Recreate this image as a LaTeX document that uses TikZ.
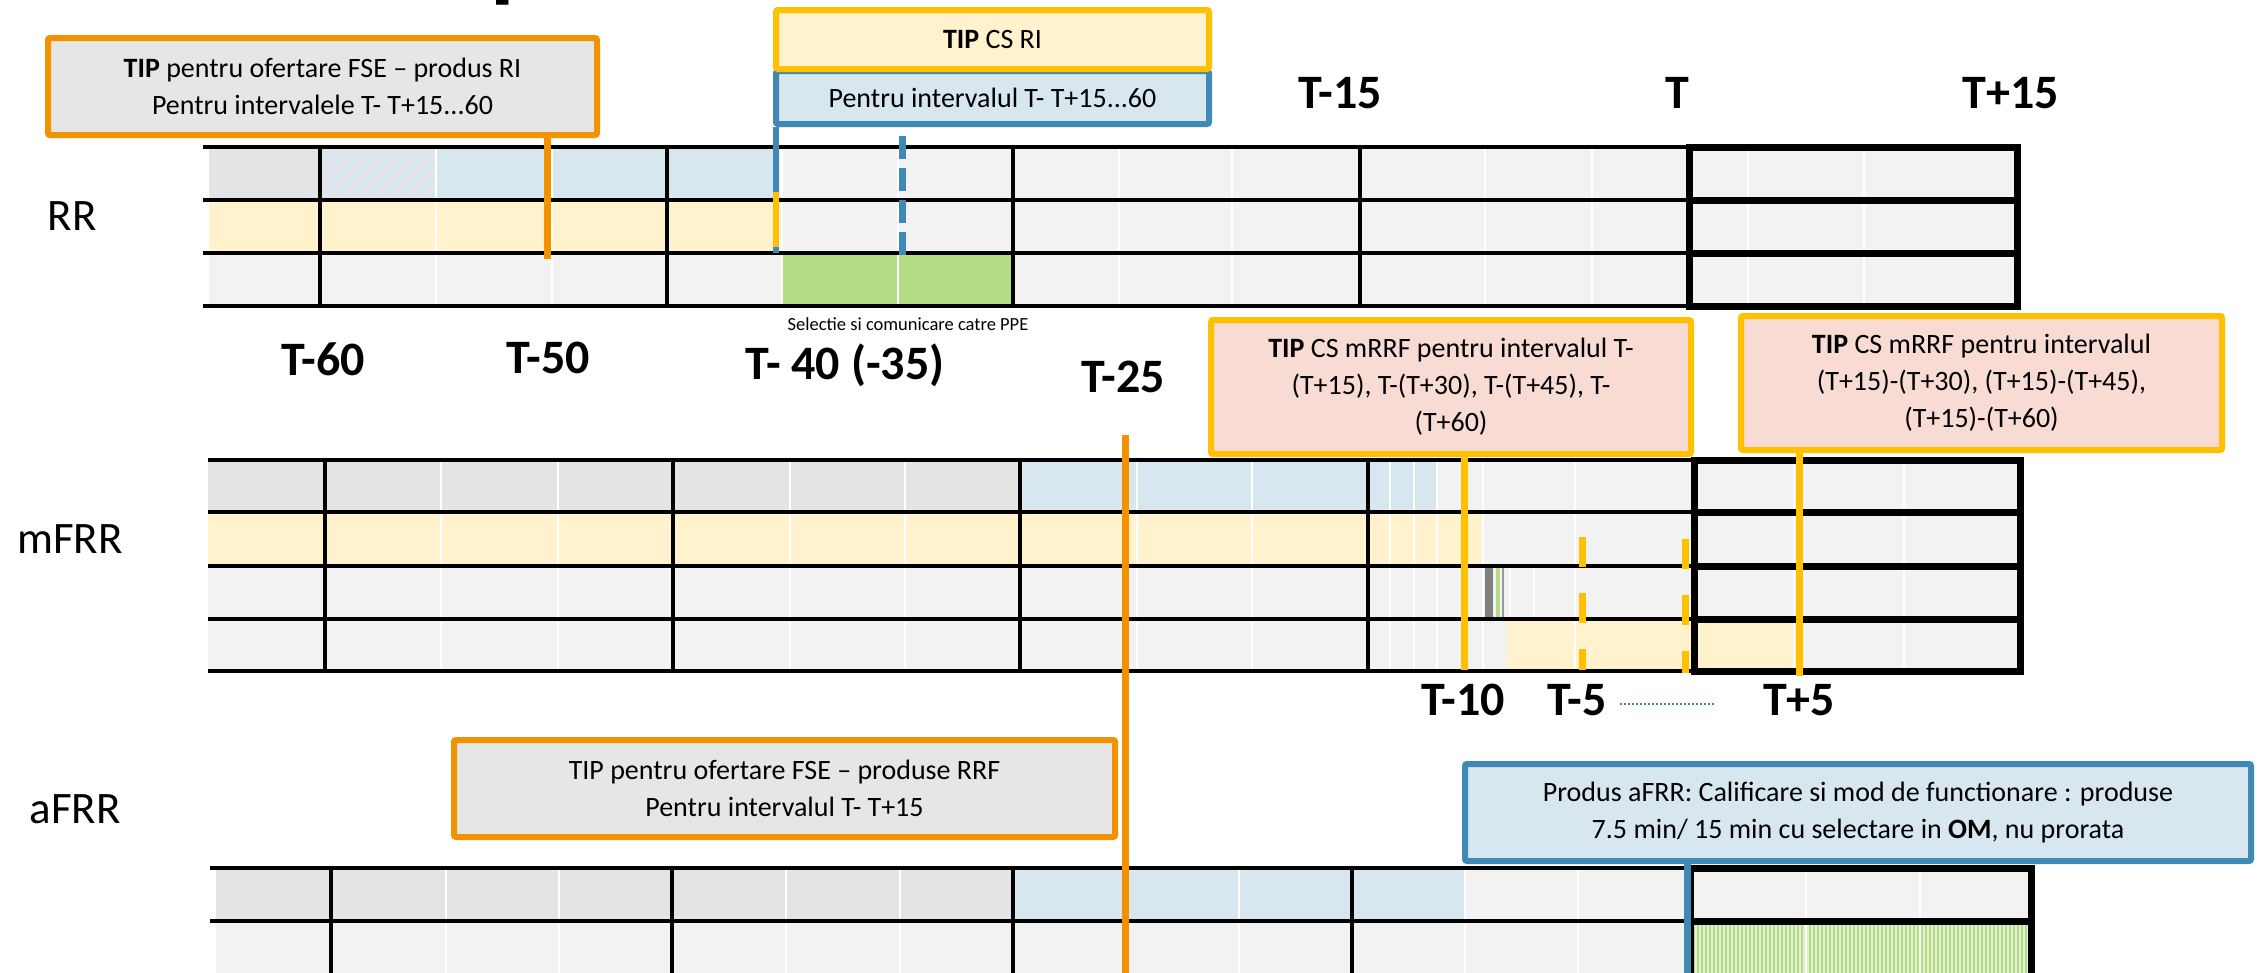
\documentclass[tikz,border=0pt]{standalone}
\usepackage{fontspec}
\setmainfont{Carlito}

\definecolor{cgray}{HTML}{E4E4E4}
\definecolor{clight}{HTML}{F2F2F2}
\definecolor{cblue}{HTML}{D7E6EF}
\definecolor{cyellow}{HTML}{FFF2CC}
\definecolor{cgreen}{HTML}{B4DC84}
\definecolor{cgreenlt}{HTML}{E2F0D0}
\definecolor{corange}{HTML}{F39200}
\definecolor{cgold}{HTML}{FFC000}
\definecolor{cline}{HTML}{4189B5}
\definecolor{cpink}{HTML}{F8DBD3}
\definecolor{cbox}{HTML}{E6E6E6}
\definecolor{cdark}{HTML}{7F7F7F}

\newcommand{\tipfont}{\fontsize{28}{37}\selectfont}
\newcommand{\tickfont}{\fontsize{48}{52}\selectfont\bfseries}
\newcommand{\rowlabfont}{\fontsize{45}{50}\selectfont}

\begin{document}
\begin{tikzpicture}[x=1pt,y=-1pt,
    callout/.style={draw, line width=6pt, inner sep=0pt, align=center, font=\tipfont, rounded corners=2pt},
    gridline/.style={line width=4.5pt},
    thickline/.style={line width=7pt},
    minor/.style={white, line width=2pt},
    tick/.style={font=\tickfont, anchor=base},
    rowlab/.style={font=\rowlabfont, anchor=base},
    orcon/.style={corange, line width=7pt},
    goldcon/.style={cgold, line width=7pt},
    bluecon/.style={cline, line width=7pt}]

    \useasboundingbox (0,0) rectangle (2259,972);

    % cut title at the top
    \node[anchor=base west, inner sep=0pt, font=\fontsize{100}{100}\selectfont\bfseries] (ttl) at (490,-11) {p};

    % row labels
    \node[rowlab] (rr) at (72,230) {RR};
    \node[rowlab] (mfrr) at (70,553) {mFRR};
    \node[rowlab] (afrr) at (75,823) {aFRR};

    % ---------------- RR grid
    \fill[clight] (209,147) rectangle (2017,306);
    \fill[cgray] (209,147) rectangle (320,200);
    \fill[cblue] (320,147) rectangle (776,200);
    \fill[cyellow] (209,200) rectangle (776,253);
    \fill[cgreen] (783,253) rectangle (1013,306);
    % hatched cell
    \begin{scope}
        \clip (320,147) rectangle (436,200);
        \foreach \x in {260,276,...,440}
            \draw[cgray, line width=5pt] (\x,200) -- (\x+53,147);
    \end{scope}
    \foreach \x in {436,552,782,898,1119,1232,1485,1592,1748,1864}
        \draw[minor] (\x,147) -- (\x,306);
    \foreach \y in {147,200,253,306}
        \draw[gridline] (203,\y) -- (1689,\y);
    \foreach \x in {320,667,1013,1360}
        \draw[gridline] (\x,147) -- (\x,306);
    \draw[thickline] (1689,147) rectangle (2017,306);
    \draw[thickline] (1689,200) -- (2017,200);
    \draw[thickline] (1689,253) -- (2017,253);

    % ---------------- mFRR grid
    \fill[clight] (208,460) rectangle (2020,671);
    \fill[cgray] (208,460) rectangle (1020,512);
    \fill[cblue] (1020,460) rectangle (1437,512);
    \fill[cyellow] (208,512) rectangle (1482,566);
    \fill[cyellow] (1507,619) rectangle (1797,671);
    \foreach \x in {441,558,790,905,1137,1252,1390,1414,1437,1483,1575,1794,1904}
        \draw[minor] (\x,460) -- (\x,671);
    \foreach \x in {1510,1534}
        \draw[minor] (\x,566) -- (\x,619);
    \fill[cdark] (1485,566) rectangle (1493,619);
    \fill[cgreen] (1496,566) rectangle (1500,619);
    \fill[cdark!80] (1502,566) rectangle (1504,619);
    \foreach \y in {460,512,566,619,671}
        \draw[gridline] (208,\y) -- (1694,\y);
    \foreach \x in {325,673,1020,1368}
        \draw[gridline] (\x,460) -- (\x,671);
    \draw[thickline] (1694,460) rectangle (2020,671);
    \foreach \y in {512,566,619}
        \draw[thickline] (1694,\y) -- (2020,\y);

    % ---------------- aFRR grid
    \fill[clight] (216,868) rectangle (2031,980);
    \fill[cgray] (216,868) rectangle (1013,921);
    \fill[cblue] (1013,868) rectangle (1465,921);
    \begin{scope}
        \clip (1690,921) rectangle (2031,980);
        \fill[cgreenlt] (1690,921) rectangle (2031,980);
        \foreach \x in {1690,1694,...,2034}
            \draw[cgreen, line width=1.6pt] (\x,921) -- (\x,980);
    \end{scope}
    \foreach \x in {446,559,786,900,1126,1239,1465,1578,1806,1920}
        \draw[minor] (\x,868) -- (\x,980);
    \foreach \y in {868,921}
        \draw[gridline] (210,\y) -- (1690,\y);
    \foreach \x in {331,672,1013,1352}
        \draw[gridline] (\x,868) -- (\x,980);
    \draw[thickline] (1690,868) -- (2031,868) -- (2031,985);
    \draw[thickline] (1690,921) -- (2031,921);
    \draw[thickline] (1690,868) -- (1690,985);

    % time labels
    \node[tick] (tm15) at (1340,108) {T-15};
    \node[tick] (t0) at (1677,108) {T};
    \node[tick] (tp15) at (2011,108) {T+15};
    \node[tick] (tm60) at (323,375) {T-60};
    \node[tick] (tm50) at (548,373) {T-50};
    \node[tick] (tm40) at (845,379) {T- 40 (-35)};
    \node[tick] (tm25) at (1123,392) {T-25};
    \node[tick] (tm10) at (1463,715) {T-10};
    \node[tick] (tm5) at (1577,715) {T-5};
    \node[tick] (tp5) at (1799,715) {T+5};
    \node[anchor=base, font=\fontsize{18.5}{20}\selectfont] (sel) at (908,330) {Selectie si comunicare catre PPE};
    \coordinate (dotA) at (1620,704);
    \coordinate (dotB) at (1715,704);
    \draw[cline, line width=2pt, dotted] (dotA) -- (dotB);

    % callouts
    \node[callout, draw=corange, fill=cbox, minimum width=549pt, minimum height=97pt] (RIofr) at (322.5,86.5)
        {\textbf{TIP} pentru ofertare FSE – produs RI\\Pentru intervalele T- T+15...60};
    \node[callout, draw=cline, fill=cblue, minimum width=433pt, minimum height=53pt] (RIint) at (992.5,97.5)
        {Pentru intervalul T- T+15...60};
    \node[callout, draw=cgold, fill=cyellow, minimum width=433pt, minimum height=59pt] (CSRI) at (992.5,39.5)
        {\textbf{TIP} CS RI};
    \node[callout, draw=cgold, fill=cpink, minimum width=480pt, minimum height=134pt] (CSm1) at (1451,387)
        {\textbf{TIP} CS mRRF pentru intervalul T-\\(T+15), T-(T+30), T-(T+45), T-\\(T+60)};
    \node[callout, draw=cgold, fill=cpink, minimum width=481pt, minimum height=134pt] (CSm2) at (1981.5,383)
        {\textbf{TIP} CS mRRF pentru intervalul\\(T+15)-(T+30), (T+15)-(T+45),\\(T+15)-(T+60)};
    \node[callout, draw=corange, fill=cbox, minimum width=661pt, minimum height=97pt] (RRFofr) at (784.5,788.5)
        {TIP pentru ofertare FSE – produse RRF\\Pentru intervalul T- T+15};
    \node[callout, draw=cline, fill=cblue, minimum width=786pt, minimum height=97pt] (aprod) at (1858,812.5)
        {Produs aFRR: Calificare si mod de functionare : produse\\7.5 min/ 15 min cu selectare in \textbf{OM}, nu prorata};

    % connectors
    \coordinate (ofrRR) at (547,259);
    \draw[orcon] (RIofr.south -| ofrRR) -- (ofrRR);

    \coordinate (csri) at (776,253);
    \coordinate (csriA) at (776,192);
    \coordinate (csriB) at (776,247);
    \draw[cline, line width=6pt] (RIint.south -| csri) -- (csri);
    \draw[cgold, line width=6pt] (csriA) -- (csriB);

    \coordinate (selA) at (902,136);
    \coordinate (selB) at (902,255);
    \draw[cline, line width=7pt, dash pattern=on 23pt off 9pt] (selA) -- (selB);

    \coordinate (t25A) at (1125,435);
    \coordinate (t25B) at (1125,980);
    \draw[orcon] (t25A) -- (t25B);

    \coordinate (t10) at (1464,670);
    \draw[goldcon] (CSm1.south -| t10) -- (t10);
    \coordinate (t5p) at (1799,676);
    \draw[goldcon] (CSm2.south -| t5p) -- (t5p);

    \coordinate (t5A) at (1582,537);
    \coordinate (t5B) at (1582,670);
    \draw[goldcon, dash pattern=on 30pt off 26pt] (t5A) -- (t5B);
    \coordinate (tA) at (1685,539);
    \coordinate (tB) at (1685,673);
    \draw[goldcon, dash pattern=on 30pt off 26pt] (tA) -- (tB);

    \coordinate (aline) at (1687,985);
    \draw[bluecon] (aprod.south -| aline) -- (aline);
\end{tikzpicture}
\end{document}
